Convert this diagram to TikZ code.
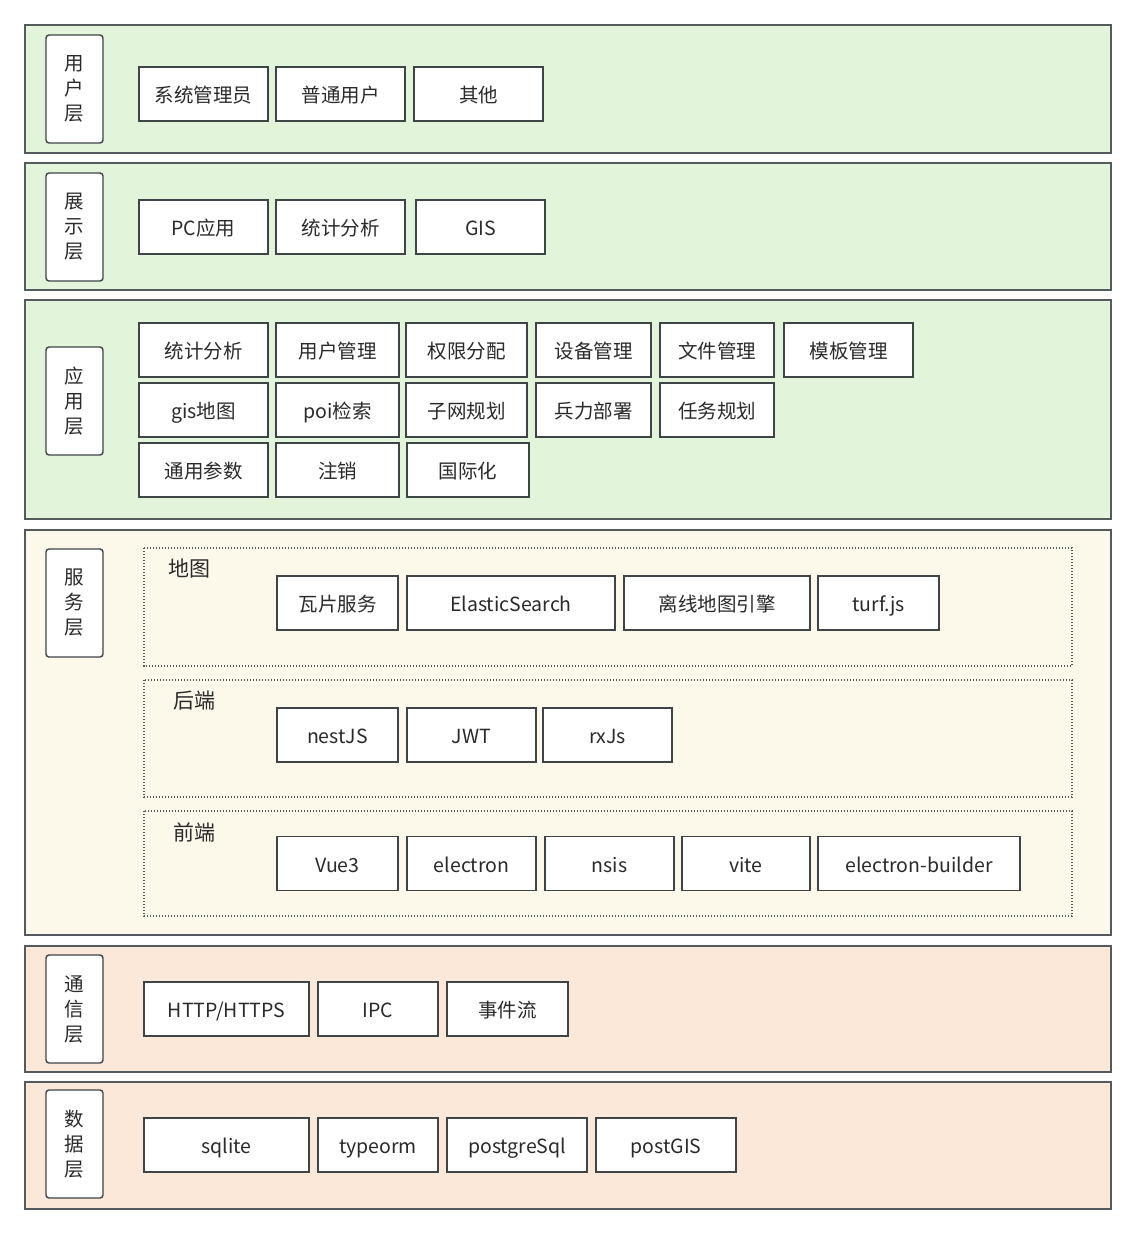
\documentclass[tikz,border=0pt]{standalone}
\usepackage{fontspec}
\setmainfont{Noto Sans CJK SC}
\usepackage{tikz}
\usetikzlibrary{positioning}
\definecolor{bandline}{HTML}{555A5E}
\definecolor{boxline}{HTML}{3F4448}
\definecolor{greenfill}{HTML}{E2F4DA}
\definecolor{creamfill}{HTML}{FCF8EA}
\definecolor{peachfill}{HTML}{FBE8D8}
\definecolor{textgray}{HTML}{2A2A2A}
\tikzset
{
	band/.style = {draw=bandline, line width=1.6pt},
	layername/.style = {draw=boxline, fill=white, rounded corners=3pt, line width=1.4pt, align=center, minimum width=57, minimum height=108, text=textgray, font=\fontsize{19.5}{25}\selectfont},
	item/.style = {draw=boxline, fill=white, line width=1.4pt, minimum height=54, text height=17, text depth=0, text=textgray, font=\fontsize{19.5}{23}\selectfont},
	group/.style = {draw=bandline, line width=1.4pt, dash pattern=on 1.4pt off 1.6pt},
	grouptitle/.style = {text=textgray, font=\fontsize{21}{25}\selectfont}
}

\begin{document}
\begin{tikzpicture}[x=1pt, y=-1pt]
\useasboundingbox (0,0) rectangle (1135,1234);
% bands
\draw[band, fill=greenfill] (25,25) rectangle (1111,153);
\draw[band, fill=greenfill] (25,163) rectangle (1111,290);
\draw[band, fill=greenfill] (25,300) rectangle (1111,519);
\draw[band, fill=creamfill] (25,530) rectangle (1111,935);
\draw[band, fill=peachfill] (25,946) rectangle (1111,1072);
\draw[band, fill=peachfill] (25,1082) rectangle (1111,1209);

% layer names
\node[layername] (user) at (74.5,89) {用\\户\\层};
\node[layername] (view) at (74.5,227) {展\\示\\层};
\node[layername] (app) at (74.5,401) {应\\用\\层};
\node[layername] (service) at (74.5,603) {服\\务\\层};
\node[layername] (comm) at (74.5,1009) {通\\信\\层};
\node[layername] (data) at (74.5,1144) {数\\据\\层};

% user layer
\node[item, minimum width=129] (admin) at (203.5,94) {系统管理员};
\node[item, minimum width=129] (normal) at (340.5,94) {普通用户};
\node[item, minimum width=129] (other) at (478.5,94) {其他};

% view layer
\node[item, minimum width=129] (pc) at (203.5,227) {PC应用};
\node[item, minimum width=129] (stat) at (340.5,227) {统计分析};
\node[item, minimum width=129] (gis) at (480.5,227) {GIS};

% application layer
\node[item, minimum width=129] (appstat) at (203.5,350) {统计分析};
\node[item, minimum width=123] (usermgr) at (337.5,350) {用户管理};
\node[item, minimum width=121] (perm) at (466.5,350) {权限分配};
\node[item, minimum width=115] (device) at (593.5,350) {设备管理};
\node[item, minimum width=114] (file) at (717,350) {文件管理};
\node[item, minimum width=129] (tpl) at (848.5,350) {模板管理};
\node[item, minimum width=129] (gismap) at (203.5,410) {gis地图};
\node[item, minimum width=123] (poi) at (337.5,410) {poi检索};
\node[item, minimum width=121] (subnet) at (466.5,410) {子网规划};
\node[item, minimum width=115] (troop) at (593.5,410) {兵力部署};
\node[item, minimum width=114] (task) at (717,410) {任务规划};
\node[item, minimum width=129] (param) at (203.5,470) {通用参数};
\node[item, minimum width=123] (logout) at (337.5,470) {注销};
\node[item, minimum width=122] (i18n) at (468,470) {国际化};

% service layer
\draw[group] (144,548) rectangle (1072,666);
\draw[group] (144,680) rectangle (1072,797);
\draw[group] (144,811) rectangle (1072,916);
\node[grouptitle] (maptitle) at (189,569) {地图};
\node[grouptitle] (backtitle) at (194,701) {后端};
\node[grouptitle] (fronttitle) at (194,832) {前端};

\node[item, minimum width=121] (tile) at (337.5,603) {瓦片服务};
\node[item, minimum width=208] (es) at (511,603) {ElasticSearch};
\node[item, minimum width=186] (offline) at (717,603) {离线地图引擎};
\node[item, minimum width=121] (turf) at (878.5,603) {turf.js};

\node[item, minimum width=121] (nest) at (337.5,735) {nestJS};
\node[item, minimum width=129] (jwt) at (471.5,735) {JWT};
\node[item, minimum width=129] (rxjs) at (607.5,735) {rxJs};

\node[item, minimum width=121] (vue) at (337.5,863.5) {Vue3};
\node[item, minimum width=129] (electron) at (471.5,863.5) {electron};
\node[item, minimum width=129] (nsis) at (609.5,863.5) {nsis};
\node[item, minimum width=128] (vite) at (746,863.5) {vite};
\node[item, minimum width=202] (builder) at (919,863.5) {electron-builder};

% communication layer
\node[item, minimum width=165] (http) at (226.5,1009) {HTTP/HTTPS};
\node[item, minimum width=120] (ipc) at (378,1009) {IPC};
\node[item, minimum width=121] (event) at (507.5,1009) {事件流};

% data layer
\node[item, minimum width=165] (sqlite) at (226.5,1145) {sqlite};
\node[item, minimum width=120] (typeorm) at (378,1145) {typeorm};
\node[item, minimum width=140] (pg) at (517,1145) {postgreSql};
\node[item, minimum width=140] (postgis) at (666,1145) {postGIS};
\end{tikzpicture}
\end{document}
